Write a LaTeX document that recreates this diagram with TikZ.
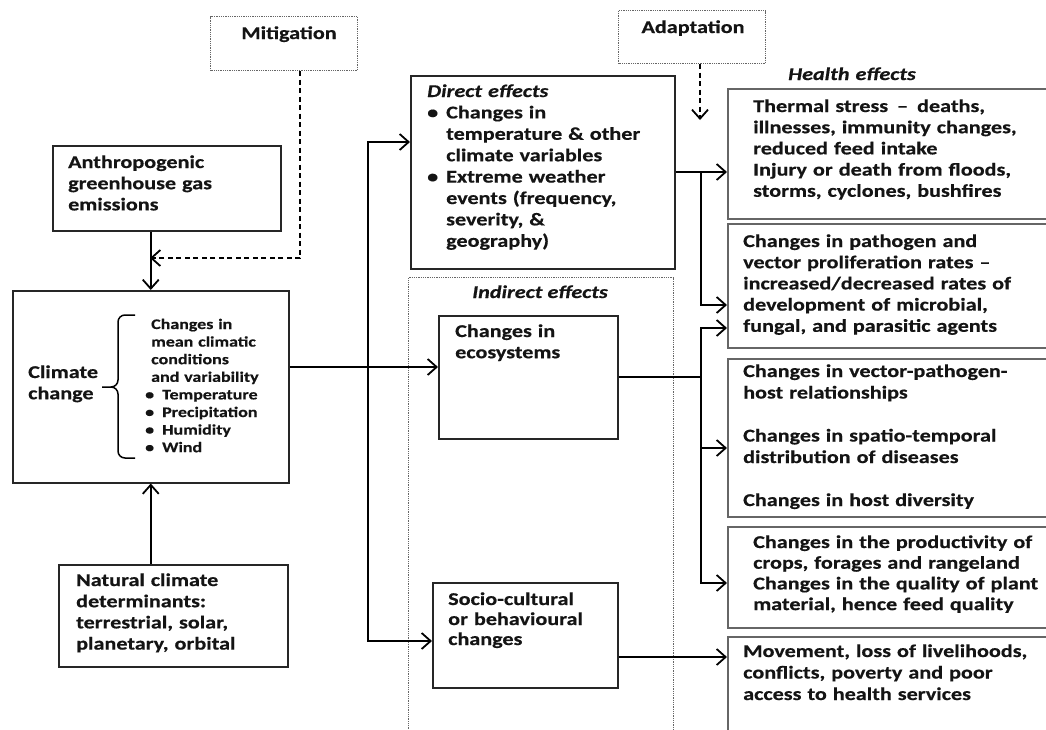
\documentclass[tikz,border=0pt]{standalone}
\usepackage{fontspec}
\setmainfont[FakeStretch=1.23, BoldFeatures={FakeBold=0.5}, BoldItalicFeatures={FakeBold=0.5}]{Carlito}
\usetikzlibrary{arrows.meta,calc}
\begin{document}
\begin{tikzpicture}[x=1pt,y=-1pt,
  box/.style={draw=black!85, line width=1.5pt, inner sep=0pt, anchor=north west},
  hbox/.style={draw=black!60, line width=1.8pt, inner sep=0pt, anchor=north west},
  dotbox/.style={draw=black!60, line width=1pt, dash pattern=on 1pt off 0.8pt, inner sep=0pt, anchor=north west},
  txt/.style={anchor=base west, inner sep=0pt, text width=330pt, align=left, text=black!92,
    font=\bfseries\fontsize{18}{21.2}\selectfont},
  ttl/.style={anchor=base, inner sep=0pt, text=black!92, font=\bfseries\fontsize{18}{21.2}\selectfont},
  small/.style={txt, font=\bfseries\fontsize{14.6}{17.6}\selectfont},
  arr/.style={line width=2pt, -{Straight Barb[length=9pt,width=16pt,line width=1.8pt]}},
  dasharr/.style={line width=1.8pt, dash pattern=on 5pt off 3.5pt, -{Straight Barb[length=9pt,width=16pt,line width=1.8pt]}},
  ln/.style={line width=2pt}
]
\useasboundingbox (0,0) rectangle (1046,729);
\clip (0,0) rectangle (1046,729);

% ---------- boxes ----------
\node[dotbox, minimum width=147, minimum height=54] (mit) at (210,16) {};
\node[dotbox, minimum width=147, minimum height=53] (ada) at (618,10) {};
\node[box, minimum width=228, minimum height=85] (anthro) at (52,145) {};
\node[box, minimum width=276, minimum height=192] (climate) at (12,290) {};
\node[box, minimum width=229, minimum height=102] (natural) at (58,564) {};
\node[box, minimum width=264, minimum height=193] (direct) at (410,75) {};
\node[dotbox, minimum width=265, minimum height=470] (indirect) at (408,277) {};
\node[box, minimum width=179, minimum height=123] (eco) at (438,315) {};
\node[box, minimum width=185, minimum height=105] (socio) at (432,582) {};
\node[hbox, minimum width=340, minimum height=130] (h1) at (727,88) {};
\node[hbox, minimum width=340, minimum height=124] (h2) at (727,223) {};
\node[hbox, minimum width=340, minimum height=158] (h3) at (727,358) {};
\node[hbox, minimum width=340, minimum height=101] (h4) at (727,526) {};
\node[hbox, minimum width=340, minimum height=110] (h5) at (727,636) {};

% ---------- texts ----------
\node[ttl] (mitt) at (289,39) {\bfseries Mitigation};
\node[ttl] (adat) at (693,33) {\bfseries Adaptation};
\node[txt] (anthrot) at (68,168) {Anthropogenic\\greenhouse gas\\emissions};
\node[txt] (climt) at (28,378) {Climate\\change};
\node[small] (climdet) at (145,329) {\hspace*{6pt}Changes in\\\hspace*{6pt}mean climatic\\\hspace*{6pt}conditions\\\hspace*{6pt}and variability\\
  \makebox[17pt][l]{\textbullet}Temperature\\\makebox[17pt][l]{\textbullet}Precipitation\\
  \makebox[17pt][l]{\textbullet}Humidity\\\makebox[17pt][l]{\textbullet}Wind};
\node[txt] (natt) at (76,586) {Natural climate\\determinants:\\terrestrial, solar,\\planetary, orbital};
\node[txt, font=\bfseries\fontsize{18}{21.4}\selectfont] (dirt) at (427,97) {\textit{Direct effects}\\
  \makebox[19pt][l]{\textbullet}Changes in\\\hspace*{19pt}temperature \& other\\\hspace*{19pt}climate variables\\
  \makebox[19pt][l]{\textbullet}Extreme weather\\\hspace*{19pt}events (frequency,\\\hspace*{19pt}severity, \&\\\hspace*{19pt}geography)};
\node[ttl] (indt) at (540,298) {\bfseries\itshape Indirect effects};
\node[txt] (ecot) at (455,337) {Changes in\\ecosystems};
\node[txt, font=\bfseries\fontsize{18}{20}\selectfont] (sociot) at (448,605) {Socio-cultural\\or behavioural\\changes};
\node[txt] (healtht) at (788,80) {\textit{Health effects}};
\node[txt] (h1t) at (753,112) {Thermal stress\hspace{3pt} --\hspace{3pt} deaths,\\illnesses, immunity changes,\\reduced feed intake\\Injury or death from floods,\\storms, cyclones, bushfires};
\node[txt] (h2t) at (743,247) {Changes in pathogen and\\vector proliferation rates --\\increased/decreased rates of\\development of microbial,\\fungal, and parasitic agents};
\node[txt, font=\bfseries\fontsize{18}{21.5}\selectfont] (h3t) at (743,377) {Changes in vector-pathogen-\\host relationships\\[21.5pt]Changes in spatio-temporal\\distribution of diseases\\[21.5pt]Changes in host diversity};
\node[txt, font=\bfseries\fontsize{18}{20.7}\selectfont] (h4t) at (753,548) {Changes in the productivity of\\crops, forages and rangeland\\Changes in the quality of plant\\material, hence feed quality};
\node[txt, font=\bfseries\fontsize{18}{21.5}\selectfont] (h5t) at (743,657) {Movement, loss of livelihoods,\\conflicts, poverty and poor\\access to health services};

% ---------- brace ----------
\draw[line width=1.5pt] (135,315) -- (125,315) to[out=180,in=90] (118,322) -- (118,380)
  to[out=270,in=0] (111,387) -- (102,387);
\draw[line width=1.5pt] (111,387) to[out=0,in=90] (118,394) -- (118,451)
  to[out=270,in=180] (125,458) -- (135,458);

% ---------- connectors ----------
\coordinate (mj) at (150,258);
\coordinate (cj) at (368,367);
\coordinate (dj) at (701,172);
\coordinate (ej) at (701,377);
\coordinate (adaend) at (700,120);

\draw[arr] (anthro.south -| climate.north) -- (climate.north);
\draw[dasharr] ($(mit.south)+(16,0)$) |- (mj);
\draw[dasharr] ($(ada.south)+(8,0)$) -- (adaend);
\draw[arr] (natural.north -| climate.south) -- (climate.south);

\draw[arr] (climate.east |- cj) -- (eco.west |- cj);
\draw[arr] (cj) |- (direct.west |- 0,142);
\draw[arr] (cj) |- (socio.west |- 0,641);

\draw[arr] (direct.east |- dj) -- (h1.west |- dj);
\draw[arr] (dj) |- (h2.west |- 0,305);

\draw[ln] (eco.east |- ej) -- (ej);
\draw[arr] (ej) |- (h2.west |- 0,328);
\draw[arr] (ej) |- (h3.west |- 0,448);
\draw[arr] (ej) |- (h4.west |- 0,583);

\draw[arr] (socio.east |- 0,657) -- (h5.west |- 0,657);
\end{tikzpicture}
\end{document}
